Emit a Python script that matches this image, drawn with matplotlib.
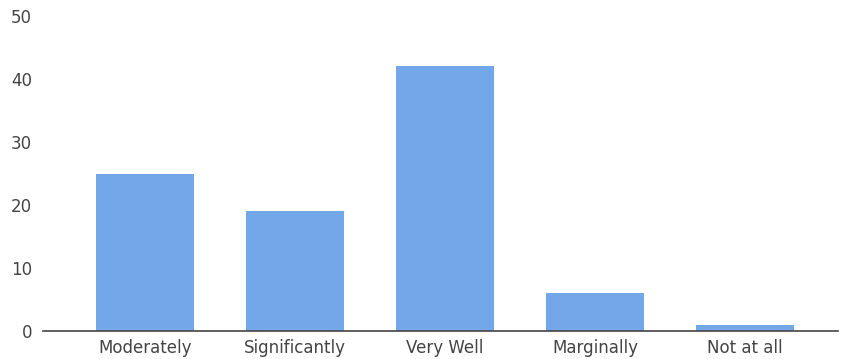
import matplotlib
matplotlib.use("Agg")
import matplotlib.pyplot as plt

categories = ["Moderately", "Significantly", "Very Well", "Marginally", "Not at all"]
values = [25, 19, 42, 6, 1]
yticks = [0, 10, 20, 30, 40, 50]

plt.rcParams['font.family'] = ['DejaVu Sans']

W, H = 841, 359
fig = plt.figure(figsize=(W / 100, H / 100), dpi=100)
left, right = 43, 838
top, bottom = 16, 331
ax = fig.add_axes([left / W, (H - bottom) / H, (right - left) / W, (bottom - top) / H])

x = list(range(len(categories)))
ax.bar(x, values, width=0.65, color="#72a8ea", edgecolor="none")

ax.set_xlim((left - 145) / 150, (right - 145) / 150)
ax.set_ylim(0, 50)
ax.set_yticks(yticks)
ax.set_yticklabels([str(v) for v in yticks])
ax.set_xticks(x)
ax.set_xticklabels(categories)

for s in ["top", "right", "left"]:
    ax.spines[s].set_visible(False)
ax.spines["bottom"].set_color("#444444")
ax.spines["bottom"].set_linewidth(1.2)

ax.tick_params(axis="both", length=0, labelsize=12, labelcolor="#444444")
ax.tick_params(axis="y", pad=8)
ax.tick_params(axis="x", pad=6)

fig.savefig("out.png", dpi=100, facecolor="white")
